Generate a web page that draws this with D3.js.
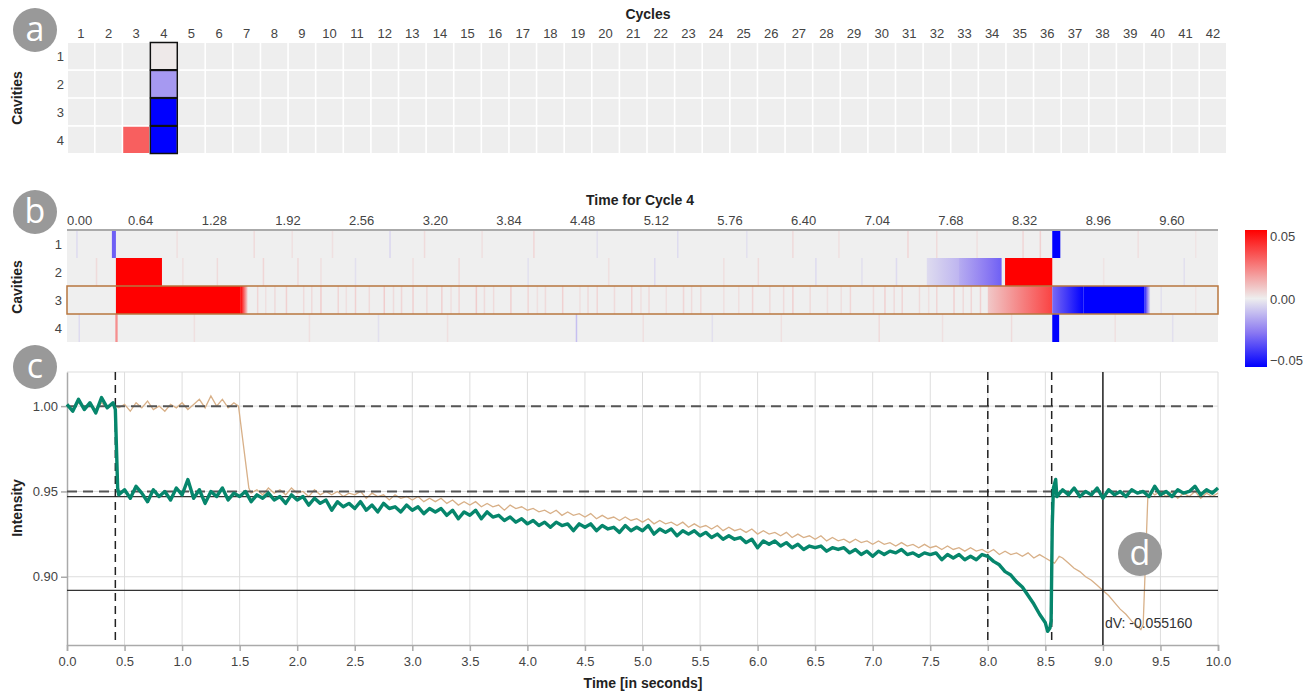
<!DOCTYPE html>
<html>
<head>
<meta charset="utf-8">
<script src="https://cdn.jsdelivr.net/npm/d3@7"></script>
<style>
  body { margin: 0; background: #fff; }
  svg { font-family: "Liberation Sans", Arial, sans-serif; }
  .tick text, .lbl { fill: #444; font-size: 13px; }
  .title { font-weight: bold; font-size: 14px; fill: #222; }
  .badge text { fill: #fff; font-family: "Open Sans", sans-serif; font-size: 34px; }
</style>
</head>
<body>
<svg width="1312" height="691"></svg>
<script>
// ---- data ----
const cycles = d3.range(1, 43);
const cavities = [1, 2, 3, 4];
const selectedCycle = 4;
const selectedCavity = 3;

// overview deviations (cycle, cavity, value); all other cells are 0
const cycleDeviation = [
  [3, 4, 0.030],
  [4, 1, 0.001],
  [4, 2, -0.018],
  [4, 3, -0.050],
  [4, 4, -0.050]
];

// detail heatmap: segments per cavity [t0, t1, v0, v1]
const detailSegments = {
  1: [[0.39, 0.425, -0.03, -0.03], [8.56, 8.63, -0.05, -0.05]],
  2: [[0.425, 0.825, 0.05, 0.05], [7.47, 7.75, -0.004, -0.012], [7.75, 8.12, -0.014, -0.03], [8.15, 8.56, 0.05, 0.05]],
  3: [[0.425, 1.51, 0.05, 0.05], [1.51, 1.57, 0.05, 0.004], [8.0, 8.56, 0.008, 0.036],
      [8.56, 8.83, -0.028, -0.05], [8.83, 9.36, -0.05, -0.05], [9.36, 9.41, -0.045, -0.004]],
  4: [[0.42, 0.44, 0.02, 0.02], [8.56, 8.62, -0.05, -0.05]]
};

// faint single-sample stripes [cavity, t, value]
const faintStripes = [
  [1,0.08,-0.004],[1,0.95,0.003],[1,1.62,0.004],[1,1.95,0.003],[1,2.3,0.003],[1,2.8,-0.005],[1,3.1,0.004],
  [1,3.6,0.003],[1,4.05,0.005],[1,4.6,-0.003],[1,5.3,-0.004],[1,5.9,-0.003],[1,6.3,0.004],[1,6.7,0.003],
  [1,7.3,0.005],[1,7.55,0.004],[1,7.9,0.003],[1,8.3,0.005],[1,8.45,0.006],[1,9.3,0.003],[1,9.8,0.002],
  [2,0.25,0.004],[2,1.0,0.003],[2,1.3,0.004],[2,1.7,0.005],[2,2.0,0.004],[2,2.2,0.003],[2,2.5,-0.003],
  [2,3.0,0.003],[2,3.4,0.004],[2,4.0,-0.003],[2,4.7,0.003],[2,5.1,-0.004],[2,5.7,0.003],[2,6.0,0.004],
  [2,6.5,-0.004],[2,6.9,-0.003],[2,7.2,-0.004],[2,9.0,0.002],[2,9.7,-0.003],
  [3,1.65,0.005],[3,1.8,0.004],[3,1.9,0.006],[3,2.05,0.004],[3,2.2,0.007],[3,2.35,0.005],[3,2.5,0.006],
  [3,2.62,0.004],[3,2.75,0.007],[3,2.9,0.005],[3,3.0,0.006],[3,3.12,0.004],[3,3.25,0.006],[3,3.4,0.005],
  [3,3.55,0.007],[3,3.7,0.004],[3,3.85,0.006],[3,4.0,0.005],[3,4.15,0.004],[3,4.3,0.006],[3,4.45,0.003],
  [3,4.6,0.005],[3,4.75,0.004],[3,4.9,0.006],[3,5.05,0.004],[3,5.2,0.003],[3,5.35,0.005],[3,5.5,0.004],
  [3,5.7,0.003],[3,5.95,0.005],[3,6.1,0.004],[3,6.3,0.006],[3,6.45,0.004],[3,6.6,0.003],[3,6.8,0.005],
  [3,7.0,0.004],[3,7.1,0.006],[3,7.25,0.005],[3,7.4,0.004],[3,7.55,0.005],[3,7.7,0.006],[3,7.85,0.005],
  [3,1.72,0.003],[3,2.12,0.004],[3,2.42,0.003],[3,2.83,0.004],[3,3.33,0.003],[3,3.62,0.004],[3,4.08,0.003],
  [3,4.52,0.004],[3,4.98,0.003],[3,5.42,0.004],[3,5.83,0.003],[3,6.22,0.004],[3,6.72,0.003],[3,7.18,0.004],
  [3,7.48,0.003],[3,7.78,0.004],[3,7.93,0.006],
  [3,9.5,-0.003],[3,9.8,0.002],
  [4,0.1,-0.004],[4,1.1,0.003],[4,2.1,0.003],[4,2.7,-0.003],[4,3.3,0.003],[4,4.42,-0.01],[4,5.0,0.003],
  [4,5.6,-0.003],[4,6.2,0.003],[4,7.05,0.004],[4,7.6,0.003],[4,8.2,0.004],[4,9.1,0.003],[4,9.6,-0.003]
];

const detailTicks = [0, 0.64, 1.28, 1.92, 2.56, 3.20, 3.84, 4.48, 5.12, 5.76, 6.40, 7.04, 7.68, 8.32, 8.96, 9.60];
const legendTicks = [0.05, 0, -0.05];

// intensity of cavity 3, selected cycle [t, value]
const currentCycle = [
  [0.00,1.001],[0.05,0.997],[0.10,1.004],[0.15,0.998],[0.20,1.002],[0.25,0.996],[0.30,1.005],[0.35,0.999],
  [0.40,1.002],[0.42,0.998],[0.44,0.952],[0.45,0.948],[0.50,0.951],[0.55,0.946],[0.60,0.953],[0.65,0.949],
  [0.70,0.944],[0.75,0.951],[0.80,0.947],[0.85,0.950],[0.90,0.945],[0.95,0.952],[1.00,0.948],[1.05,0.957],
  [1.10,0.946],[1.15,0.951],[1.20,0.943],[1.25,0.950],[1.30,0.947],[1.35,0.952],[1.40,0.945],[1.45,0.949],
  [1.50,0.947],[1.55,0.950],[1.60,0.944],[1.65,0.948],[1.70,0.946],[1.75,0.949],[1.80,0.945],[1.85,0.947],
  [1.90,0.943],[1.95,0.948],[2.00,0.945],[2.05,0.947],[2.10,0.942],[2.15,0.946],[2.20,0.943],[2.25,0.945],
  [2.30,0.939],[2.35,0.944],[2.40,0.941],[2.45,0.943],[2.50,0.940],[2.55,0.944],[2.60,0.939],[2.65,0.942],
  [2.70,0.938],[2.75,0.943],[2.80,0.940],[2.85,0.941],[2.90,0.938],[2.95,0.942],[3.00,0.939],[3.05,0.941],
  [3.10,0.937],[3.15,0.940],[3.20,0.938],[3.25,0.940],[3.30,0.936],[3.35,0.939],[3.40,0.934],[3.45,0.938],
  [3.50,0.936],[3.55,0.939],[3.60,0.934],[3.65,0.938],[3.70,0.935],[3.75,0.936],[3.80,0.933],[3.85,0.935],
  [3.90,0.932],[3.95,0.934],[4.00,0.931],[4.05,0.933],[4.10,0.930],[4.15,0.932],[4.20,0.929],[4.25,0.932],
  [4.30,0.930],[4.35,0.931],[4.40,0.927],[4.45,0.931],[4.50,0.929],[4.55,0.931],[4.60,0.927],[4.65,0.930],
  [4.70,0.928],[4.75,0.929],[4.80,0.926],[4.85,0.930],[4.90,0.927],[4.95,0.929],[5.00,0.927],[5.05,0.930],
  [5.10,0.925],[5.15,0.928],[5.20,0.926],[5.25,0.928],[5.30,0.924],[5.35,0.927],[5.40,0.925],[5.45,0.927],
  [5.50,0.924],[5.55,0.926],[5.60,0.923],[5.65,0.925],[5.70,0.922],[5.75,0.924],[5.80,0.922],[5.85,0.923],
  [5.90,0.920],[5.95,0.922],[6.00,0.917],[6.05,0.921],[6.10,0.919],[6.15,0.921],[6.20,0.918],[6.25,0.920],
  [6.30,0.917],[6.35,0.919],[6.40,0.916],[6.45,0.918],[6.50,0.917],[6.55,0.918],[6.60,0.915],[6.65,0.917],
  [6.70,0.916],[6.75,0.917],[6.80,0.914],[6.85,0.916],[6.90,0.913],[6.95,0.915],[7.00,0.912],[7.05,0.915],
  [7.10,0.913],[7.15,0.915],[7.20,0.914],[7.25,0.916],[7.30,0.913],[7.35,0.914],[7.40,0.912],[7.45,0.914],
  [7.50,0.913],[7.55,0.914],[7.60,0.910],[7.65,0.913],[7.70,0.911],[7.75,0.913],[7.80,0.910],[7.85,0.912],
  [7.90,0.910],[7.95,0.913],[8.00,0.912],[8.05,0.909],[8.10,0.907],[8.15,0.903],[8.20,0.901],[8.25,0.897],
  [8.30,0.894],[8.35,0.889],[8.40,0.884],[8.45,0.878],[8.50,0.873],[8.52,0.868],[8.54,0.870],[8.55,0.874],
  [8.56,0.930],[8.57,0.952],[8.59,0.957],[8.60,0.947],[8.65,0.951],[8.70,0.948],[8.75,0.952],[8.80,0.947],
  [8.85,0.950],[8.90,0.948],[8.95,0.952],[9.00,0.946],[9.05,0.951],[9.10,0.948],[9.15,0.950],[9.20,0.947],
  [9.25,0.951],[9.30,0.949],[9.35,0.950],[9.40,0.947],[9.45,0.953],[9.50,0.948],[9.55,0.950],[9.60,0.947],
  [9.65,0.951],[9.70,0.949],[9.75,0.950],[9.80,0.953],[9.85,0.948],[9.90,0.951],[9.95,0.949],[10.00,0.952]
];

// intensity of cavity 3, reference cycle [t, value]
const referenceCycle = [
  [0.00,1.000],[0.05,0.998],[0.10,1.002],[0.15,0.999],[0.20,1.001],[0.25,0.998],[0.30,1.002],[0.35,0.999],
  [0.40,1.001],[0.45,0.999],[0.50,1.001],[0.55,0.997],[0.60,1.002],[0.65,0.999],[0.70,1.003],[0.75,0.998],
  [0.80,1.000],[0.85,0.997],[0.90,1.001],[0.95,0.999],[1.00,1.002],[1.05,0.998],[1.10,1.001],[1.15,1.004],
  [1.20,0.999],[1.25,1.006],[1.30,1.000],[1.35,1.004],[1.40,0.999],[1.45,1.002],[1.49,1.000],[1.58,0.952],
  [1.60,0.949],[1.65,0.951],[1.70,0.948],[1.75,0.952],[1.80,0.949],[1.85,0.951],[1.90,0.948],[1.95,0.952],
  [2.00,0.949],[2.05,0.950],[2.10,0.947],[2.15,0.951],[2.20,0.948],[2.25,0.950],[2.30,0.948],[2.35,0.950],
  [2.40,0.947],[2.45,0.949],[2.50,0.948],[2.55,0.950],[2.60,0.946],[2.65,0.949],[2.70,0.947],[2.75,0.948],
  [2.80,0.945],[2.85,0.948],[2.90,0.946],[2.95,0.947],[3.00,0.945],[3.05,0.947],[3.10,0.944],[3.15,0.946],
  [3.20,0.944],[3.25,0.946],[3.30,0.943],[3.35,0.945],[3.40,0.942],[3.45,0.944],[3.50,0.942],[3.55,0.944],
  [3.60,0.941],[3.65,0.943],[3.70,0.941],[3.75,0.942],[3.80,0.939],[3.85,0.942],[3.90,0.940],[3.95,0.941],
  [4.00,0.939],[4.05,0.940],[4.10,0.938],[4.15,0.939],[4.20,0.937],[4.25,0.939],[4.30,0.936],[4.35,0.938],
  [4.40,0.936],[4.45,0.937],[4.50,0.935],[4.55,0.937],[4.60,0.934],[4.65,0.936],[4.70,0.934],[4.75,0.935],
  [4.80,0.933],[4.85,0.935],[4.90,0.933],[4.95,0.934],[5.00,0.932],[5.05,0.934],[5.10,0.931],[5.15,0.933],
  [5.20,0.931],[5.25,0.932],[5.30,0.930],[5.35,0.932],[5.40,0.929],[5.45,0.931],[5.50,0.929],[5.55,0.930],
  [5.60,0.928],[5.65,0.930],[5.70,0.927],[5.75,0.929],[5.80,0.927],[5.85,0.928],[5.90,0.926],[5.95,0.928],
  [6.00,0.925],[6.05,0.927],[6.10,0.925],[6.15,0.926],[6.20,0.924],[6.25,0.926],[6.30,0.923],[6.35,0.925],
  [6.40,0.923],[6.45,0.924],[6.50,0.922],[6.55,0.924],[6.60,0.921],[6.65,0.923],[6.70,0.921],[6.75,0.922],
  [6.80,0.920],[6.85,0.922],[6.90,0.920],[6.95,0.921],[7.00,0.919],[7.05,0.921],[7.10,0.919],[7.15,0.920],
  [7.20,0.918],[7.25,0.920],[7.30,0.918],[7.35,0.919],[7.40,0.917],[7.45,0.919],[7.50,0.917],[7.55,0.918],
  [7.60,0.916],[7.65,0.918],[7.70,0.916],[7.75,0.917],[7.80,0.915],[7.85,0.917],[7.90,0.915],[7.95,0.916],
  [8.00,0.914],[8.05,0.916],[8.10,0.913],[8.15,0.915],[8.20,0.913],[8.25,0.914],[8.30,0.912],[8.35,0.914],
  [8.40,0.911],[8.45,0.913],[8.50,0.911],[8.55,0.909],[8.58,0.908],[8.62,0.912],[8.65,0.911],[8.70,0.908],
  [8.75,0.905],[8.80,0.903],[8.85,0.900],[8.90,0.898],[8.95,0.895],[9.00,0.892],[9.05,0.889],[9.10,0.885],
  [9.15,0.881],[9.20,0.878],[9.25,0.874],[9.30,0.871],[9.33,0.869],[9.35,0.872],[9.39,0.946],[9.42,0.950],
  [9.45,0.948],[9.50,0.950],[9.55,0.947],[9.60,0.950],[9.65,0.946],[9.70,0.949],[9.75,0.947],[9.80,0.950],
  [9.85,0.946],[9.90,0.949],[9.95,0.947],[10.00,0.949]
];

const dashedLevels = [1.00, 0.95];
const solidLevels = [0.947, 0.892];
const dashedTimes = [0.42, 8.0, 8.555];
const cursorTime = 9.0;
const deltaLabel = 'dV: -0.055160';

// ---- setup ----
const svg = d3.select('svg');

const color = d3.scaleLinear()
    .domain([-0.05, -0.025, 0, 0.05])
    .range(['#0000ff', '#8a78f2', '#eeeeee', '#ff0000'])
    .clamp(true);

function badge(x, y, letter) {
  const g = svg.append('g').attr('class', 'badge');
  g.append('circle').attr('cx', x).attr('cy', y).attr('r', 22).attr('fill', '#999');
  g.append('text').attr('x', x).attr('y', y + 11).attr('text-anchor', 'middle').text(letter);
}

function yTitle(x, y, txt) {
  svg.append('text').attr('class', 'title')
      .attr('transform', `translate(${x},${y}) rotate(-90)`)
      .attr('text-anchor', 'middle').text(txt);
}

// ---- panel a: cycle overview ----
const xa = d3.scaleBand().domain(cycles).range([68, 1226]).paddingInner(0.06);
const ya = d3.scaleBand().domain(cavities).range([43, 153]).paddingInner(0.06);

const devMap = new Map(cycleDeviation.map(d => [d[0] + '-' + d[1], d[2]]));
const cells = [];
cycles.forEach(c => cavities.forEach(k => cells.push({ cycle: c, cavity: k, v: devMap.get(c + '-' + k) || 0 })));

svg.append('g').selectAll('rect')
  .data(cells)
  .enter().append('rect')
    .attr('x', d => xa(d.cycle))
    .attr('y', d => ya(d.cavity))
    .attr('width', xa.bandwidth())
    .attr('height', ya.bandwidth())
    .attr('fill', d => color(d.v));

// selected column outline
svg.append('g').selectAll('rect')
  .data(cells.filter(d => d.cycle === selectedCycle))
  .enter().append('rect')
    .attr('x', d => xa(d.cycle) - 0.5)
    .attr('y', d => ya(d.cavity) - 0.5)
    .attr('width', xa.bandwidth() + 1)
    .attr('height', ya.bandwidth() + 1)
    .attr('fill', 'none')
    .attr('stroke', '#111')
    .attr('stroke-width', 1.5);

svg.append('g').selectAll('text')
  .data(cycles)
  .enter().append('text').attr('class', 'lbl')
    .attr('x', d => xa(d) + xa.bandwidth() / 2)
    .attr('y', 38)
    .attr('text-anchor', 'middle')
    .text(d => d);

svg.append('g').selectAll('text')
  .data(cavities)
  .enter().append('text').attr('class', 'lbl')
    .attr('x', 64)
    .attr('y', d => ya(d) + ya.bandwidth() / 2 + 5)
    .attr('text-anchor', 'end')
    .text(d => d);

svg.append('text').attr('class', 'title').attr('x', 648).attr('y', 19).attr('text-anchor', 'middle').text('Cycles');
yTitle(22, 98, 'Cavities');
badge(35, 30, 'a');

// ---- panel b: detail heatmap ----
const xt = d3.scaleLinear().domain([0, 10]).range([67, 1218]);
const yb = d3.scaleBand().domain(cavities).range([230, 342]);

const defs = svg.append('defs');
const gb = svg.append('g');
gb.append('rect').attr('x', xt(0)).attr('y', 230).attr('width', xt(10) - xt(0)).attr('height', 112).attr('fill', '#efefef');

gb.selectAll('rect.stripe')
  .data(faintStripes)
  .enter().append('rect').attr('class', 'stripe')
    .attr('x', d => xt(d[1]))
    .attr('y', d => yb(d[0]))
    .attr('width', 1.5)
    .attr('height', yb.bandwidth())
    .attr('fill', d => color(d[2]));

let gid = 0;
cavities.forEach(k => {
  detailSegments[k].forEach(s => {
    const id = 'seg' + (gid++);
    const lg = defs.append('linearGradient').attr('id', id);
    d3.range(0, 1.0001, 0.25).forEach(p => {
      lg.append('stop').attr('offset', p).attr('stop-color', color(s[2] + (s[3] - s[2]) * p));
    });
    gb.append('rect')
      .attr('x', xt(s[0]))
      .attr('y', yb(k))
      .attr('width', xt(s[1]) - xt(s[0]))
      .attr('height', yb.bandwidth())
      .attr('fill', `url(#${id})`);
  });
});

gb.append('line').attr('x1', xt(0)).attr('x2', xt(10)).attr('y1', 230).attr('y2', 230)
  .attr('stroke', '#aaa').attr('stroke-width', 2);
gb.append('rect')
  .attr('x', xt(0)).attr('y', yb(selectedCavity))
  .attr('width', xt(10) - xt(0)).attr('height', yb.bandwidth())
  .attr('fill', 'none').attr('stroke', '#b8773f').attr('stroke-width', 1.5);

svg.append('g').selectAll('text')
  .data(detailTicks)
  .enter().append('text').attr('class', 'lbl')
    .attr('x', d => xt(d))
    .attr('y', 225)
    .attr('text-anchor', d => d === 0 ? 'start' : 'middle')
    .text(d => d3.format('.2f')(d));

svg.append('g').selectAll('text')
  .data(cavities)
  .enter().append('text').attr('class', 'lbl')
    .attr('x', 62)
    .attr('y', d => yb(d) + yb.bandwidth() / 2 + 5)
    .attr('text-anchor', 'end')
    .text(d => d);

svg.append('text').attr('class', 'title').attr('x', 640).attr('y', 205).attr('text-anchor', 'middle').text('Time for Cycle 4');
yTitle(22, 287, 'Cavities');
badge(35, 212, 'b');

// legend
const lgd = defs.append('linearGradient').attr('id', 'legendGrad').attr('x1', 0).attr('x2', 0).attr('y1', 0).attr('y2', 1);
d3.range(0, 1.0001, 0.05).forEach(p => {
  lgd.append('stop').attr('offset', p).attr('stop-color', color(0.05 - p * 0.1));
});
const ly = d3.scaleLinear().domain([0.05, -0.05]).range([230, 367]);
svg.append('rect').attr('x', 1245).attr('y', 230).attr('width', 22).attr('height', 137).attr('fill', 'url(#legendGrad)');
svg.append('g').selectAll('text')
  .data(legendTicks)
  .enter().append('text').attr('class', 'lbl')
    .attr('x', 1270)
    .attr('y', d => ly(d) + (d === 0.05 ? 11 : d === 0 ? 5 : -2))
    .text(d => d3.format('.2f')(d));

// ---- panel c: intensity ----
const yc = d3.scaleLinear().domain([0.86, 1.02]).range([645, 372]);
const gc = svg.append('g');

gc.append('g').selectAll('line')
  .data(d3.range(0.5, 10.01, 0.5))
  .enter().append('line')
    .attr('x1', d => xt(d)).attr('x2', d => xt(d))
    .attr('y1', 372).attr('y2', 645)
    .attr('stroke', '#ddd');
gc.append('g').selectAll('line')
  .data([0.90, 0.95, 1.00])
  .enter().append('line')
    .attr('x1', xt(0)).attr('x2', xt(10))
    .attr('y1', d => yc(d)).attr('y2', d => yc(d))
    .attr('stroke', '#ddd');
gc.append('line').attr('x1', xt(0)).attr('x2', xt(10)).attr('y1', 372).attr('y2', 372).attr('stroke', '#ddd');

const xAxis = gc.append('g').attr('transform', 'translate(0,645)')
  .call(d3.axisBottom(xt).tickValues(d3.range(0, 10.01, 0.5)).tickFormat(d3.format('.1f')).tickSize(6).tickSizeOuter(6));
const yAxis = gc.append('g').attr('transform', `translate(${xt(0)},0)`)
  .call(d3.axisLeft(yc).tickValues([0.90, 0.95, 1.00]).tickFormat(d3.format('.2f')).tickSize(6).tickSizeOuter(0));
[xAxis, yAxis].forEach(a => {
  a.selectAll('path, line').attr('stroke', '#aaa').attr('stroke-width', 1.5);
  a.selectAll('text').style('font-size', '13px').attr('fill', '#444');
});
xAxis.selectAll('text').attr('dy', '0.9em');

const line = d3.line().x(d => xt(d[0])).y(d => yc(d[1]));

gc.append('path').datum(referenceCycle)
  .attr('d', line).attr('fill', 'none')
  .attr('stroke', '#d8b088').attr('stroke-width', 1.3);

gc.append('g').selectAll('line')
  .data(dashedLevels)
  .enter().append('line')
    .attr('x1', xt(0)).attr('x2', xt(10))
    .attr('y1', d => yc(d)).attr('y2', d => yc(d))
    .attr('stroke', '#555').attr('stroke-width', 2).attr('stroke-dasharray', '10,6');
gc.append('g').selectAll('line')
  .data(solidLevels)
  .enter().append('line')
    .attr('x1', xt(0)).attr('x2', xt(10))
    .attr('y1', d => yc(d)).attr('y2', d => yc(d))
    .attr('stroke', '#333').attr('stroke-width', 1.3);
gc.append('g').selectAll('line')
  .data(dashedTimes)
  .enter().append('line')
    .attr('x1', d => xt(d)).attr('x2', d => xt(d))
    .attr('y1', 372).attr('y2', 645)
    .attr('stroke', '#222').attr('stroke-width', 1.5).attr('stroke-dasharray', '8,5');
gc.append('line')
  .attr('x1', xt(cursorTime)).attr('x2', xt(cursorTime))
  .attr('y1', 372).attr('y2', 645)
  .attr('stroke', '#222').attr('stroke-width', 1.5);

gc.append('path').datum(currentCycle)
  .attr('d', line).attr('fill', 'none')
  .attr('stroke', '#06866c').attr('stroke-width', 3.4).attr('stroke-linejoin', 'round');

gc.append('text').attr('x', xt(cursorTime) + 2).attr('y', 628)
  .attr('fill', '#333').style('font-size', '14px').text(deltaLabel);

svg.append('text').attr('class', 'title').attr('x', 643).attr('y', 688).attr('text-anchor', 'middle').text('Time [in seconds]');
yTitle(22, 508, 'Intensity');
badge(35, 367, 'c');
badge(1140, 554, 'd');
</script>
</body>
</html>
